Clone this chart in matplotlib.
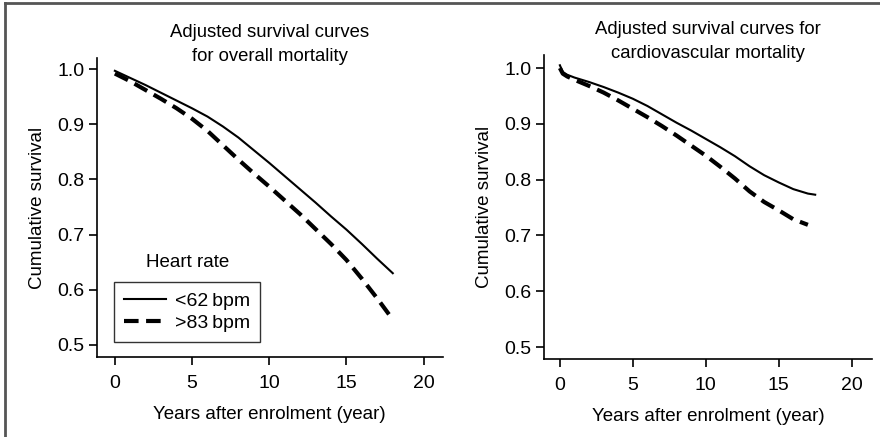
import matplotlib
matplotlib.use("Agg")
import matplotlib.pyplot as plt

plt.rcParams['font.family'] = ['Liberation Sans', 'DejaVu Sans']

# Overall mortality (left panel)
t_all_low = [0, 1, 2, 3, 4, 5, 6, 7, 8, 9, 10, 11, 12, 13, 14, 15, 16, 17, 18]
s_all_low = [0.997, 0.984, 0.971, 0.957, 0.943, 0.929, 0.914, 0.896, 0.876, 0.853,
             0.830, 0.806, 0.782, 0.758, 0.733, 0.709, 0.683, 0.656, 0.630]
t_all_high = [0, 1, 2, 3, 4, 5, 6, 7, 8, 9, 10, 11, 12, 13, 14, 15, 16, 17, 18]
s_all_high = [0.992, 0.978, 0.962, 0.946, 0.929, 0.910, 0.888, 0.862, 0.836, 0.811,
              0.787, 0.762, 0.737, 0.710, 0.683, 0.654, 0.620, 0.584, 0.546]

# Cardiovascular mortality (right panel)
t_cv_low = [0, 0.2, 0.5, 1, 2, 3, 4, 5, 6, 7, 8, 9, 10, 11, 12, 13, 14, 15, 16, 17, 17.5]
s_cv_low = [1.005, 0.993, 0.988, 0.983, 0.975, 0.966, 0.956, 0.945, 0.932, 0.917, 0.902,
            0.888, 0.873, 0.858, 0.842, 0.824, 0.808, 0.795, 0.783, 0.775, 0.773]
t_cv_high = [0, 0.2, 0.5, 1, 2, 3, 4, 5, 6, 7, 8, 9, 10, 11, 12, 13, 14, 15, 16, 17]
s_cv_high = [1.000, 0.990, 0.985, 0.979, 0.968, 0.956, 0.942, 0.927, 0.912, 0.896,
             0.879, 0.861, 0.843, 0.823, 0.802, 0.779, 0.760, 0.745, 0.729, 0.719]

labels = ["<62\u2009bpm", ">83\u2009bpm"]
xticks = [0, 5, 10, 15, 20]
yticks = [0.5, 0.6, 0.7, 0.8, 0.9, 1.0]

fig = plt.figure(figsize=(8.8, 4.37), dpi=100)

# partial frame around the figure (top and left edges only)
fig.add_artist(plt.Line2D([0.006, 0.006], [0, 0.993], color='#555555', lw=2,
                          transform=fig.transFigure))
fig.add_artist(plt.Line2D([0.006, 1.0], [0.993, 0.993], color='#555555', lw=2,
                          transform=fig.transFigure))

ax1 = fig.add_axes([0.110, 0.183, 0.393, 0.684])
ax2 = fig.add_axes([0.618, 0.1785, 0.373, 0.6955])


def style(ax, ylim, xlim, title):
    ax.set_xlim(*xlim)
    ax.set_ylim(*ylim)
    ax.set_xticks(xticks)
    ax.set_yticks(yticks)
    ax.set_yticklabels(["%.1f" % v for v in yticks])
    for s in ['top', 'right']:
        ax.spines[s].set_visible(False)
    for s in ['left', 'bottom']:
        ax.spines[s].set_linewidth(1.2)
    ax.tick_params(direction='out', length=6, width=1.2, labelsize=14)
    ax.tick_params(axis='x', pad=7)
    ax.tick_params(axis='y', pad=3)
    ax.set_xlabel("Years after enrolment (year)", fontsize=13.5, labelpad=10)
    ax.set_ylabel("Cumulative survival", fontsize=13.5, labelpad=8)
    ax.set_title(title, fontsize=13.3, y=1.0, pad=-2, linespacing=1.5)


l1, = ax1.plot(t_all_low, s_all_low, color='black', lw=1.5)
l2, = ax1.plot(t_all_high, s_all_high, color='black', lw=3, ls=(0, (3.5, 1.8)))
style(ax1, (0.478, 1.02), (-1.17, 21.23), "Adjusted survival curves\nfor overall mortality")

ax2.plot(t_cv_low, s_cv_low, color='black', lw=1.5)
ax2.plot(t_cv_high, s_cv_high, color='black', lw=3, ls=(0, (3.5, 1.8)))
style(ax2, (0.4785, 1.0233), (-1.1, 21.4), "Adjusted survival curves for\ncardiovascular mortality")

leg = ax1.legend([l1, l2], labels, loc='upper left', bbox_to_anchor=(0.05, 0.25),
                 frameon=True, fancybox=False, fontsize=14, handlelength=2.15,
                 handletextpad=0.5, borderpad=0.5, borderaxespad=0,
                 labelspacing=0.25)
leg.get_frame().set_edgecolor('black')
leg.get_frame().set_linewidth(1.0)
ax1.text(0.263, 0.315, "Heart rate", transform=ax1.transAxes, fontsize=13.5,
         ha='center', va='center')

fig.savefig("out.png", dpi=100)
